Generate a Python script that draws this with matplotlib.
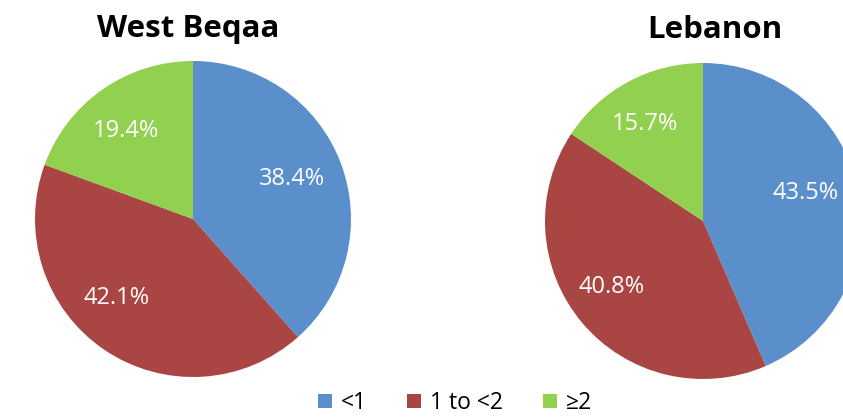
import matplotlib
matplotlib.use("Agg")
import matplotlib.pyplot as plt
from matplotlib.patches import Patch
import matplotlib.transforms as mtransforms

categories = ["<1", "1 to <2", "≥2"]
west_beqaa = [38.4, 42.1, 19.4]
lebanon = [43.5, 40.8, 15.7]
titles = ["West Beqaa", "Lebanon"]
colors = ["#5B8FCB", "#A94543", "#92D050"]

# small label nudges (pixels, x right / y up) to mimic the original label placement
nudges_left = [(-4, 1), (-14, 12), (-4, -3)]
nudges_right = [(-6, 6), (-7, 5), (-6, 0)]

plt.rcParams['font.family'] = ['Open Sans', 'DejaVu Sans']

W, H = 843, 417
fig = plt.figure(figsize=(W / 100, H / 100), dpi=100)

def add_pie(cx, cy, r, vals, title, tx, ty, nudges):
    ax = fig.add_axes([(cx - r) / W, 1 - (cy + r) / H, 2 * r / W, 2 * r / H])
    wedges, texts, autotexts = ax.pie(
        vals, colors=colors, startangle=90, counterclock=False,
        autopct=lambda p: f"{p:.1f}%", pctdistance=0.7,
        textprops=dict(color="white", fontsize=17),
        wedgeprops=dict(linewidth=0))
    for t, (dx, dy) in zip(autotexts, nudges):
        t.set_transform(t.get_transform() + mtransforms.ScaledTranslation(dx / 100, dy / 100, fig.dpi_scale_trans))
    ax.set_xlim(-1, 1)
    ax.set_ylim(-1, 1)
    ax.set_aspect("equal")
    ax.axis("off")
    fig.text(tx / W, 1 - ty / H, title, ha="center", va="center",
             fontsize=22.5, fontweight="bold", color="black")

add_pie(193, 219, 158, west_beqaa, titles[0], 188, 29, nudges_left)
add_pie(703, 221, 158, lebanon, titles[1], 715, 30, nudges_right)

handles = [Patch(facecolor=c, edgecolor="none") for c in colors]
fig.legend(handles, categories, loc="center", bbox_to_anchor=(455 / W, 1 - 403 / H),
           ncol=3, frameon=False, fontsize=16.5, handlelength=0.6, handleheight=0.6,
           columnspacing=1.75, handletextpad=0.4, borderaxespad=0, borderpad=0)

fig.savefig("out.png", dpi=100)
